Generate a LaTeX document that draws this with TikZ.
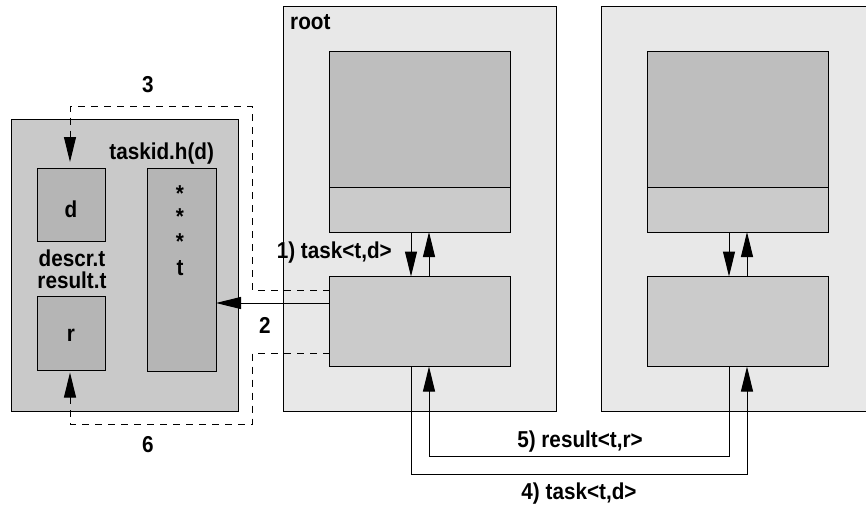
\documentclass[tikz,border=0pt]{standalone}
\usepackage{fontspec}
\setmainfont[FakeStretch=0.9]{Liberation Sans}
\usetikzlibrary{arrows.meta,calc}
\definecolor{panelL}{HTML}{E8E8E8}
\definecolor{panelD}{HTML}{C9C9C9}
\definecolor{boxA}{HTML}{BEBEBE}
\definecolor{boxB}{HTML}{CBCBCB}
\definecolor{boxC}{HTML}{B5B5B5}
\tikzset{
  every node/.style={font=\fontsize{23}{27}\selectfont\bfseries},
  rbox/.style={draw=black, line width=1pt, inner sep=0pt, outer sep=0pt},
  tip/.style={-{Triangle[length=25pt,width=12pt]}},
  conn/.style={line width=1pt, draw=black},
  dconn/.style={line width=1pt, draw=black, dash pattern=on 7pt off 6pt},
  lbl/.style={inner sep=0pt}
}
\begin{document}
\begin{tikzpicture}[x=1pt,y=-1pt]
\useasboundingbox (0,0) rectangle (866,504);
\clip (0,0) rectangle (866,504);
% panels
\node[rbox, fill=panelD, minimum width=227pt, minimum height=292pt, anchor=north west] (lp) at (11,119.5) {};
\node[rbox, fill=panelL, minimum width=273pt, minimum height=405pt, anchor=north west] (root) at (283.5,6.5) {};
\node[rbox, fill=panelL, minimum width=290pt, minimum height=405pt, anchor=north west] (rp) at (601.5,6.5) {};
% left inner boxes
\node[rbox, fill=boxC, minimum width=68pt, minimum height=73pt, anchor=north west] (d) at (37,168.5) {};
\node[lbl] at (71,209) {d};
\node[rbox, fill=boxC, minimum width=68pt, minimum height=74pt, anchor=north west] (r) at (37,296.5) {};
\node[lbl] at (71,335) {r};
\node[rbox, fill=boxC, minimum width=69pt, minimum height=203pt, anchor=north west] (tk) at (147,168.5) {};
\node[lbl] at (180,194) {*};
\node[lbl] at (180,217) {*};
\node[lbl] at (180,242) {*};
\node[lbl] at (180,268) {t};
\node[lbl] (tkl) at (161.7,154) {taskid.h(d)};
\node[lbl] at (72,258) {descr.t};
\node[lbl] at (72,280) {result.t};
% root boxes
\node[rbox, fill=boxA, minimum width=181pt, minimum height=135.5pt, anchor=north west] (ru) at (329.5,51.5) {};
\node[rbox, fill=boxB, minimum width=181pt, minimum height=45pt, anchor=north west] (rus) at (329.5,187) {};
\node[rbox, fill=boxB, minimum width=181pt, minimum height=90pt, anchor=north west] (rl) at (329.5,276.5) {};
\node[lbl, anchor=west] at (290,22) {root};
% right boxes
\node[rbox, fill=boxA, minimum width=181pt, minimum height=135.5pt, anchor=north west] (pu) at (647.5,51.5) {};
\node[rbox, fill=boxB, minimum width=181pt, minimum height=45pt, anchor=north west] (pus) at (647.5,187) {};
\node[rbox, fill=boxB, minimum width=181pt, minimum height=90pt, anchor=north west] (pl) at (647.5,276.5) {};
% arrows between boxes
\draw[conn,tip] (rus.south -| 411,0) -- (rl.north -| 411,0);
\draw[conn,tip] (rl.north -| 429,0) -- (rus.south -| 429,0);
\draw[conn,tip] (pus.south -| 729,0) -- (pl.north -| 729,0);
\draw[conn,tip] (pl.north -| 747,0) -- (pus.south -| 747,0);
\node[lbl, anchor=east] at (392,253) {1) task<t,d>};
% bottom loops
\coordinate (b4a) at (411,474);
\coordinate (b4b) at (747,474);
\coordinate (b5a) at (729,456);
\coordinate (b5b) at (429,456);
\draw[conn,tip] (rl.south -| b4a) -- (b4a) -- (b4b) -- (pl.south -| b4b);
\draw[conn,tip] (pl.south -| b5a) -- (b5a) -- (b5b) -- (rl.south -| b5b);
\node[lbl] at (580,441.5) {5) result<t,r>};
\node[lbl, anchor=base] at (579,499) {4) task<t,d>};
% arrow 2
\draw[conn,tip] (rl.west |- 0,303) -- (tk.east |- 0,303);
\node[lbl] at (265,325) {2};
% dashed 3
\coordinate (c3a) at (252,290);
\coordinate (c3b) at (252,106);
\coordinate (c3c) at (70,106);
\coordinate (c3d) at (70,162);
\draw[dconn] (rl.west |- c3a) -- (c3a) -- (c3b) -- (c3c) -- (70,136);
\draw[conn,tip] (70,136) -- (c3d);
\node[lbl] at (148,85) {3};
% dashed 6
\coordinate (c6a) at (252,353);
\coordinate (c6b) at (252,424);
\coordinate (c6c) at (70,424);
\coordinate (c6d) at (70,372.5);
\draw[dconn] (rl.west |- c6a) -- (c6a) -- (c6b) -- (c6c) -- (70,398);
\draw[conn,tip] (70,398) -- (c6d);
\node[lbl] at (148,445) {6};
\end{tikzpicture}
\end{document}
